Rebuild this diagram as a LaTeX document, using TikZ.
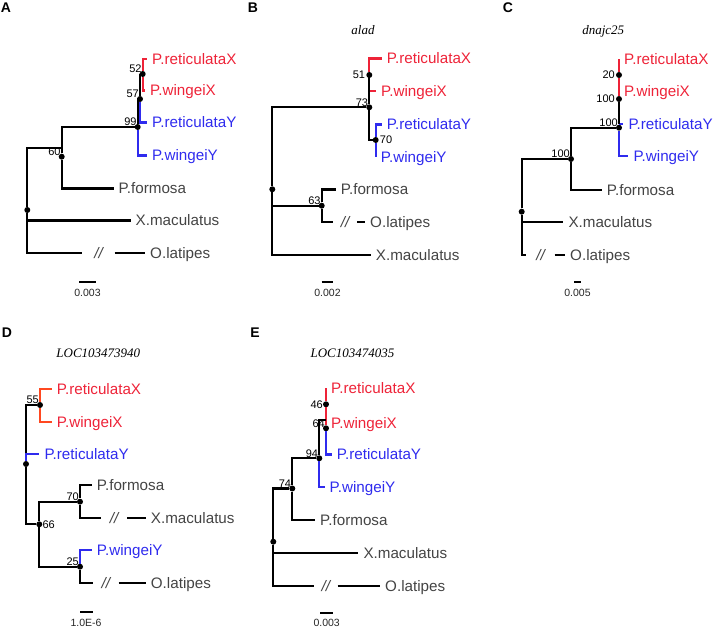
\documentclass[tikz,border=0pt]{standalone}
\usepackage{fontspec}
\setmainfont{Liberation Serif}
\setsansfont{Liberation Sans}
\usepackage{xcolor}
\usetikzlibrary{positioning}
\definecolor{xred}{HTML}{EE2338}
\definecolor{xorange}{HTML}{FF4820}
\definecolor{yblue}{HTML}{2F2BEE}
\definecolor{leafgray}{HTML}{444444}
\tikzset{
  branch/.style = {line width=2.2pt, draw=black},
  xbr/.style    = {line width=2.2pt, draw=xred},
  obr/.style    = {line width=2.2pt, draw=xorange},
  ybr/.style    = {line width=2.2pt, draw=yblue},
  joint/.style  = {circle, fill=black, inner sep=0pt, minimum size=6pt},
  leaf/.style   = {anchor=west, inner xsep=5pt, inner ysep=0pt, text height=10.9pt,
                   text depth=0pt, font=\sffamily\fontsize{15.2}{17}\selectfont, text=leafgray},
  xleaf/.style  = {leaf, text=xred},
  yleaf/.style  = {leaf, text=yblue},
  brk/.style    = {inner ysep=0pt, text height=10.9pt, text depth=0pt,
                   font=\sffamily\itshape\fontsize{15.2}{17}\selectfont, text=leafgray},
  boot/.style   = {inner sep=1pt, text height=7.9pt, text depth=0pt,
                   font=\sffamily\fontsize{11}{12}\selectfont},
  gene/.style   = {inner sep=0pt, text height=9pt, text depth=0pt,
                   font=\itshape\fontsize{13}{15}\selectfont},
  plabel/.style = {inner sep=0pt, font=\sffamily\bfseries\fontsize{14}{16}\selectfont},
  sbar/.style   = {line width=2.2pt, draw=black},
  sblbl/.style  = {inner sep=0pt, font=\sffamily\fontsize{10.5}{12}\selectfont, text=black!85}
}

\begin{document}
\begin{tikzpicture}[x=1pt, y=-1pt]
  \useasboundingbox (0,0) rectangle (713,628);

  \node[plabel] (pA) at (6,8) {A};
  \node[xleaf] (aRX) at (147,59)    {P.reticulataX};
  \node[xleaf] (aWX) at (145,90.5)  {P.wingeiX};
  \node[yleaf] (aRY) at (147,122.5) {P.reticulataY};
  \node[yleaf] (aWY) at (147,155.5) {P.wingeiY};
  \node[leaf]  (aPF) at (113.5,188.5) {P.formosa};
  \node[leaf]  (aXM) at (130.5,220.5) {X.maculatus};
  \node[brk, inner xsep=11.6pt] (aBk) at (98.5,252.7) {//};
  \node[leaf]  (aOL) at (145,252.7) {O.latipes};
  \node[joint] (a52) at (142.7,74) {};
  \node[joint] (a57) at (140,99) {};
  \node[joint] (a99) at (137.7,127) {};
  \node[joint] (a60) at (61.7,156.7) {};
  \node[joint] (a0)  at (27.3,210) {};
  \coordinate (a60in) at (61.7,148.3);
  \node[boot, above left=0pt of a52.center] (a52l) {52};
  \node[boot, above left=0pt of a57.center] (a57l) {57};
  \node[boot, above left=0pt of a99.center] (a99l) {99};
  \node[boot, above left=0pt of a60.center] (a60l) {60};
  \draw[xbr] (a52) |- (aRX.west); \draw[xbr] (a52) |- (aWX.west);
  \draw[branch] (a57) |- (a52); \draw[ybr] (a57) |- (aRY.west);
  \draw[branch] (a99) |- (a57); \draw[ybr] (a99) |- (aWY.west);
  \draw[branch] (a60) |- (a99); \draw[branch] (a60) |- (aPF.west);
  \draw[branch] (a0) |- (a60in); \draw[branch] (a0) |- (aXM.west);
  \draw[branch] (a0) |- (aBk.west); \draw[branch] (aBk.east) -- (aOL.west);
  \draw[sbar] (79,282.3) -- (96,282.3);
  \node[sblbl] (asc) at (87.5,293.3) {0.003};

  \node[plabel] (pB) at (253,8) {B};
  \node[gene] (bT) at (363,30) {alad};
  \node[xleaf] (bRX) at (381.7,58.5) {P.reticulataX};
  \node[xleaf] (bWX) at (376,91)     {P.wingeiX};
  \node[yleaf] (bRY) at (381.7,124.5) {P.reticulataY};
  \node[yleaf] (bWY) at (375.7,156.7) {P.wingeiY};
  \node[leaf]  (bPF) at (335.7,189.5) {P.formosa};
  \node[brk, inner xsep=7.8pt] (bBk) at (345,221.7) {//};
  \node[leaf]  (bOL) at (365,221.7) {O.latipes};
  \node[leaf]  (bXM) at (370.7,255) {X.maculatus};
  \node[joint] (b51) at (369.3,75) {};
  \node[joint] (b70) at (375.7,140) {};
  \node[joint] (b73) at (369.3,107.3) {};
  \node[joint] (b63) at (321.7,205.7) {};
  \node[joint] (b0)  at (272.3,189.3) {};
  \node[boot, left=3pt of b51.center] (b51l) {51};
  \node[boot, right=3pt of b70.center] (b70l) {70};
  \node[boot, above left=0pt of b73.center] (b73l) {73};
  \node[boot, above left=0pt of b63.center] (b63l) {63};
  \draw[xbr] (b51) |- (bRX.west); \draw[xbr] (b51) |- (bWX.west);
  \draw[ybr] (b70) |- (bRY.west); \draw[ybr] (b70) |- (bWY.west);
  \draw[branch] (b73) |- (b51); \draw[branch] (b73) |- (b70);
  \draw[branch] (b63) |- (bPF.west); \draw[branch] (b63) |- (bBk.west);
  \draw[branch] (bBk.east) -- (bOL.west);
  \draw[branch] (b0) |- (b73); \draw[branch] (b0) |- (b63); \draw[branch] (b0) |- (bXM.west);
  \draw[sbar] (321.7,282.3) -- (333.3,282.3);
  \node[sblbl] (bsc) at (327.5,293.3) {0.002};

  \node[plabel] (pC) at (508,8) {C};
  \node[gene] (cT) at (603.3,30) {dnajc25};
  \node[xleaf] (cRX) at (619,59)   {P.reticulataX};
  \node[xleaf] (cWX) at (619,91)   {P.wingeiX};
  \node[yleaf] (cRY) at (623.3,124) {P.reticulataY};
  \node[yleaf] (cWY) at (628.3,155.7) {P.wingeiY};
  \node[leaf]  (cPF) at (601.7,190) {P.formosa};
  \node[leaf]  (cXM) at (563.3,221.7) {X.maculatus};
  \node[brk, inner xsep=9.8pt] (cBk) at (540.5,255) {//};
  \node[leaf]  (cOL) at (565,255) {O.latipes};
  \node[joint] (c20)   at (619,75) {};
  \node[joint] (c100a) at (619,99) {};
  \node[joint] (c100b) at (619,127.7) {};
  \node[joint] (c100c) at (571,159) {};
  \node[joint] (c0)    at (521.7,211.7) {};
  \node[boot, left=3pt of c20.center] (c20l) {20};
  \node[boot, left=3pt of c100a.center] (c100al) {100};
  \node[boot, above left=0pt of c100b.center] (c100bl) {100};
  \node[boot, above left=0pt of c100c.center] (c100cl) {100};
  \draw[xbr] (c20) |- (cRX.west); \draw[xbr] (c20) |- (cWX.west);
  \draw[xbr] (c100a) -- (c20);
  \draw[branch] (c100a) -- (c100a |- cRY.west); \draw[ybr] (c100a |- cRY.west) -- (cRY.west);
  \draw[branch] (c100b) -- (c100a); \draw[ybr] (c100b) |- (cWY.west);
  \draw[branch] (c100c) |- (c100b); \draw[branch] (c100c) |- (cPF.west);
  \draw[branch] (c0) |- (c100c); \draw[branch] (c0) |- (cXM.west);
  \draw[branch] (c0) |- (cBk.west); \draw[branch] (cBk.east) -- (cOL.west);
  \draw[sbar] (574,282.3) -- (581,282.3);
  \node[sblbl] (csc) at (577.5,293.3) {0.005};

  \node[plabel] (pD) at (7,332.7) {D};
  \node[gene] (dT) at (98.3,353.3) {LOC103473940};
  \node[xleaf] (dRX) at (51.7,389)   {P.reticulataX};
  \node[xleaf] (dWX) at (51.7,421.7) {P.wingeiX};
  \node[yleaf] (dRY) at (39.3,454)   {P.reticulataY};
  \node[leaf]  (dPF) at (91.7,485)   {P.formosa};
  \node[brk, inner xsep=8.5pt] (dBk1) at (114.2,518.3) {//};
  \node[leaf]  (dXM) at (145.7,518.3) {X.maculatus};
  \node[yleaf] (dWY) at (91.7,550)   {P.wingeiY};
  \node[brk, inner xsep=8.5pt] (dBk2) at (105.8,583.3) {//};
  \node[leaf]  (dOL) at (145.7,583.3) {O.latipes};
  \node[joint] (d55) at (40,405) {};
  \node[joint] (d0)  at (26,464) {};
  \node[joint] (d70) at (80,501.7) {};
  \node[joint] (d66) at (39.3,524.3) {};
  \node[joint] (d25) at (80,566.7) {};
  \node[boot, above left=0pt of d55.center] (d55l) {55};
  \node[boot, above left=0pt of d70.center] (d70l) {70};
  \node[boot, right=2pt of d66.center] (d66l) {66};
  \node[boot, above left=0pt of d25.center] (d25l) {25};
  \draw[obr] (d55) |- (dRX.west); \draw[obr] (d55) |- (dWX.west);
  \draw[branch] (d0) |- (d55); \draw[ybr] (d0) |- (dRY.west); \draw[branch] (d0) |- (d66);
  \draw[branch] (d66) |- (d70); \draw[branch] (d66) |- (d25);
  \draw[branch] (d70) |- (dPF.west); \draw[branch] (d70) |- (dBk1.west);
  \draw[branch] (dBk1.east) -- (dXM.west);
  \draw[ybr] (d25) |- (dWY.west); \draw[branch] (d25) |- (dBk2.west);
  \draw[branch] (dBk2.east) -- (dOL.west);
  \draw[sbar] (80,611.7) -- (92.7,611.7);
  \node[sblbl] (dsc) at (86,623.3) {1.0E-6};

  \node[plabel] (pE) at (255,333) {E};
  \node[gene] (eT) at (352.5,353.3) {LOC103474035};
  \node[xleaf] (eRX) at (326,388.5)   {P.reticulataX};
  \node[xleaf] (eWX) at (326,422.7)   {P.wingeiX};
  \node[yleaf] (eRY) at (331.7,454.5) {P.reticulataY};
  \node[yleaf] (eWY) at (324.5,486.7) {P.wingeiY};
  \node[leaf]  (ePF) at (315,520)     {P.formosa};
  \node[leaf]  (eXM) at (358.3,553.3) {X.maculatus};
  \node[brk, inner xsep=7.5pt] (eBk) at (325.8,586) {//};
  \node[leaf]  (eOL) at (380,586) {O.latipes};
  \node[joint] (e46) at (326,404.3) {};
  \node[joint] (e64) at (326,428.3) {};
  \node[joint] (e94) at (319.3,458.3) {};
  \node[joint] (e74) at (292.3,488.5) {};
  \node[joint] (e0)  at (273.3,541.7) {};
  \coordinate (e64in) at (326,420);
  \node[boot, left=2pt of e46.center] (e46l) {46};
  \node[boot, above left=0pt of e64.center] (e64l) {64};
  \node[boot, above left=0pt of e94.center] (e94l) {94};
  \node[boot, above left=0pt of e74.center] (e74l) {74};
  \draw[xbr] (e46) |- (eRX.west); \draw[xbr] (e46) |- (eWX.west);
  \draw[xbr] (e64) -- (e46); \draw[ybr] (e64) |- (eRY.west);
  \draw[branch] (e94) |- (e64in); \draw[ybr] (e94) |- (eWY.west);
  \draw[branch] (e74) |- (e94); \draw[branch] (e74) |- (ePF.west);
  \draw[branch] (e0) |- (e74); \draw[branch] (e0) |- (eXM.west);
  \draw[branch] (e0) |- (eBk.west); \draw[branch] (eBk.east) -- (eOL.west);
  \draw[sbar] (320,613.3) -- (333.3,613.3);
  \node[sblbl] (esc) at (326.7,623.3) {0.003};
\end{tikzpicture}
\end{document}
